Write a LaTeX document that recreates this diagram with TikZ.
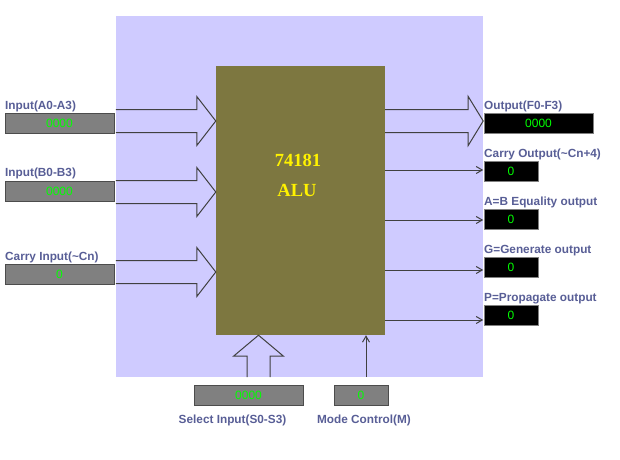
\documentclass[tikz,border=0pt]{standalone}
\usepackage{fontspec}
\setmainfont{Liberation Serif}
\setsansfont{Liberation Sans}
\usetikzlibrary{arrows.meta}
\definecolor{panelbg}{RGB}{207, 203, 255}
\definecolor{chipbody}{RGB}{125, 119, 64}
\definecolor{labelblue}{RGB}{88, 94, 150}
\definecolor{wiregray}{RGB}{64, 64, 64}
\definecolor{ledgreen}{RGB}{0, 255, 0}
\tikzset{
    pin label/.style={
        font=\fontsize{11.8}{13}\selectfont\sffamily\bfseries,
        text=labelblue,
        inner sep=0pt
    },
    fat right/.style={
        to path={++(0,-11.5) -| ([shift={(-#1,-24.5)}]\tikztotarget) -- (\tikztotarget)
            -- ([shift={(-#1,24.5)}]\tikztotarget) |- ([shift={(0,11.5)}]\tikztostart)}
    },
    fat up/.style={
        to path={++(-11.5,0) |- ([shift={(-25,#1)}]\tikztotarget) -- (\tikztotarget)
            -- ([shift={(25,#1)}]\tikztotarget) -| ([shift={(11.5,0)}]\tikztostart)}
    }
}

\begin{document}
\begin{tikzpicture}[x=1pt, y=-1pt, >={Straight Barb[length=6pt,width=7pt]}]

    \tikzstyle{panel} = [
        rectangle,
        fill=panelbg,
        minimum width=367pt,
        minimum height=361pt,
        inner sep=0pt
    ]
    \tikzstyle{chip} = [
        rectangle,
        fill=chipbody,
        minimum width=169pt,
        minimum height=269pt,
        inner sep=0pt
    ]
    \tikzstyle{chip text} = [
        text=yellow,
        inner sep=0pt,
        font=\fontsize{18.5}{20}\selectfont\rmfamily\bfseries
    ]
    \tikzstyle{readout} = [
        rectangle,
        fill=gray,
        draw=gray!60!black,
        line width=1pt,
        minimum height=20pt,
        inner sep=0pt,
        text=ledgreen,
        font=\fontsize{12}{13}\selectfont\sffamily
    ]
    \tikzstyle{display} = [
        readout,
        fill=black,
        draw=gray
    ]
    \tikzstyle{wire} = [draw=wiregray, line width=1pt]

    \useasboundingbox (0,0) rectangle (620,459);

    % Fond et circuit
    \node[panel] (panel) at (299.5,196.5) {};
    \node[chip] (alu) at (300.5,200.5) {};
    \node[chip text] (num) at (298,160) {74181};
    \node[chip text] (name) at (297,190) {ALU};

    % Entrées
    \node[pin label, anchor=west] (labA) at (5,106.5) {Input(A0-A3)};
    \node[readout, minimum width=109pt] (inA) at (59.5,123) {0000};
    \node[pin label, anchor=west] (labB) at (5,173.5) {Input(B0-B3)};
    \node[readout, minimum width=109pt] (inB) at (59.5,191) {0000};
    \node[pin label, anchor=west] (labCn) at (5,257.5) {Carry Input(\textasciitilde Cn)};
    \node[readout, minimum width=109pt] (inCn) at (59.5,274) {0};

    % Sorties
    \node[pin label, anchor=west] (labF) at (484,106.5) {Output(F0-F3)};
    \node[display, minimum width=109pt] (outF) at (538.5,123) {0000};
    \node[pin label, anchor=west] (labC) at (484,154.5) {Carry Output(\textasciitilde Cn+4)};
    \node[display, minimum width=54pt] (outC) at (511,171.5) {0};
    \node[pin label, anchor=west] (labEq) at (484,202.5) {A=B Equality output};
    \node[display, minimum width=54pt] (outEq) at (511,219.5) {0};
    \node[pin label, anchor=west] (labG) at (484,250.5) {G=Generate output};
    \node[display, minimum width=54pt] (outG) at (511,267.5) {0};
    \node[pin label, anchor=west] (labP) at (484,298.5) {P=Propagate output};
    \node[display, minimum width=54pt] (outP) at (511,315.5) {0};

    % Commandes
    \node[readout, minimum width=109pt] (sel) at (248.5,395) {0000};
    \node[readout, minimum width=54pt] (mode) at (361,395) {0};
    \node[pin label] (labS) at (232.5,420.5) {Select Input(S0-S3)};
    \node[pin label] (labM) at (364,420.5) {Mode Control(M)};

    % Flèches
    \draw[wire] (panel.west |- 0,121) to[fat right=19] (alu.west |- 0,121);
    \draw[wire] (panel.west |- 0,192) to[fat right=19] (alu.west |- 0,192);
    \draw[wire] (panel.west |- 0,272) to[fat right=19] (alu.west |- 0,272);
    \draw[wire] (alu.east |- 0,121) to[fat right=15] (panel.east |- 0,121);
    \draw[wire, ->] (alu.east |- 0,170) -- (panel.east |- 0,170);
    \draw[wire, ->] (alu.east |- 0,220) -- (panel.east |- 0,220);
    \draw[wire, ->] (alu.east |- 0,270) -- (panel.east |- 0,270);
    \draw[wire, ->] (alu.east |- 0,320) -- (panel.east |- 0,320);
    \draw[wire] (panel.south -| 258.5,0) to[fat up=21] (alu.south -| 258.5,0);
    \draw[wire, ->] (panel.south -| 366,0) -- (alu.south -| 366,0);

\end{tikzpicture}
\end{document}
